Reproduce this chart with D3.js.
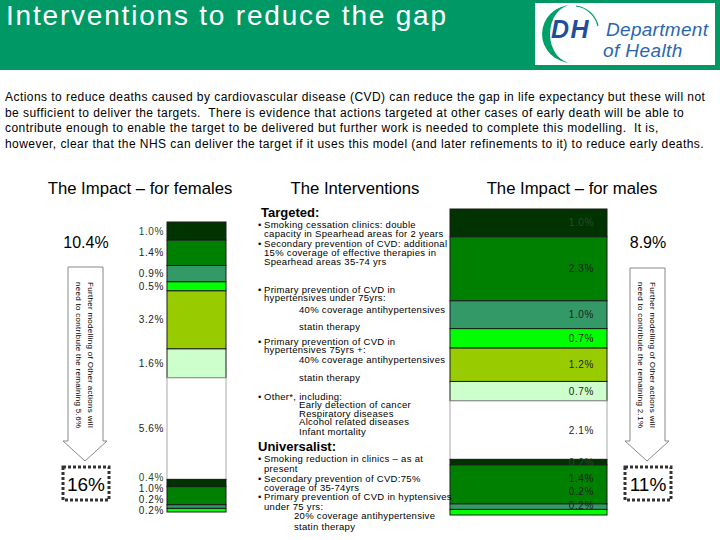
<!DOCTYPE html>
<html>
<head>
<meta charset="utf-8">
<script src="https://cdn.jsdelivr.net/npm/d3@7"></script>
<style>
  body { margin: 0; background: #fff; }
  svg { display: block; font-family: "Liberation Sans", Arial, sans-serif; }
</style>
</head>
<body>
<svg width="720" height="540"></svg>
<script>
// interventions, top to bottom in each bar
const categories = [
  "Smoking cessation", "Secondary prevention", "Primary <75: antihypertensives",
  "Primary <75: statins", "Primary 75+: antihypertensives", "Primary 75+: statins",
  "Other", "Universal smoking", "Universal secondary", "Universal antihypertensives",
  "Universal statins"
];
const femaleValues = [1.0, 1.4, 0.9, 0.5, 3.2, 1.6, 5.6, 0.4, 1.0, 0.2, 0.2];
const maleValues   = [1.0, 2.3, 1.0, 0.7, 1.2, 0.7, 2.1, 0.2, 1.4, 0.2, 0.2];
const femaleTotal = "16%", maleTotal = "11%";
const femaleTargeted = "10.4%", maleTargeted = "8.9%";
const femaleRemaining = "5.6%", maleRemaining = "2.1%";

const segColors = ["#003300", "#008000", "#339966", "#00ff00", "#99cc00", "#ccffcc",
                   "#ffffff", "#003300", "#008000", "#339966", "#00ff00"];

var svg = d3.select("svg");
var color = d3.scaleOrdinal().domain(categories).range(segColors);

// header band
svg.append("rect").attr("x", 0).attr("y", 0).attr("width", 720).attr("height", 70).attr("fill", "#009966");
svg.append("text").attr("x", 6).attr("y", 25)
  .attr("font-size", 28).attr("letter-spacing", 1.8).attr("fill", "#fff")
  .text("Interventions to reduce the gap");

// logo
var logo = svg.append("g");
logo.append("rect").attr("x", 535).attr("y", 3).attr("width", 180).attr("height", 62).attr("fill", "#fff");
logo.append("path")
  .attr("d", "M572,5 A30,29 0 0 0 572,63 A22,29 0 0 1 572,5 Z")
  .attr("fill", "#00a06a");
logo.append("path")
  .attr("d", "M576,6 A26,26 0 0 1 598,26")
  .attr("fill", "none").attr("stroke", "#00a06a").attr("stroke-width", 1.2);
logo.append("text").attr("x", 551).attr("y", 38)
  .attr("font-size", 25).attr("font-weight", "bold").attr("font-style", "italic")
  .attr("letter-spacing", 1.5).attr("fill", "#1f4e9a").text("DH");
logo.append("text").attr("x", 606).attr("y", 36)
  .attr("font-size", 19).attr("font-style", "italic").attr("letter-spacing", 0.3)
  .attr("fill", "#2a66b0").text("Department");
logo.append("text").attr("x", 603).attr("y", 57)
  .attr("font-size", 19).attr("font-style", "italic").attr("letter-spacing", 0.4)
  .attr("fill", "#2a66b0").text("of Health");

// intro paragraph
var para = [
  "Actions to reduce deaths caused by cardiovascular disease (CVD) can reduce the gap in life expectancy but these will not",
  "be sufficient to deliver the targets.  There is evidence that actions targeted at other cases of early death will be able to",
  "contribute enough to enable the target to be delivered but further work is needed to complete this modelling.  It is,",
  "however, clear that the NHS can deliver the target if it uses this model (and later refinements to it) to reduce early deaths."
];
svg.append("g").selectAll("text").data(para).enter().append("text")
  .attr("x", 5).attr("y", (d, i) => 101 + i * 15.5)
  .attr("font-size", 12).attr("letter-spacing", 0.45)
  .style("white-space", "pre")
  .text(d => d);

// column headings
[["The Impact \u2013 for females", 140], ["The Interventions", 355], ["The Impact \u2013 for males", 572]]
  .forEach(h => {
    svg.append("text").attr("x", h[1]).attr("y", 194).attr("text-anchor", "middle")
      .attr("font-size", 16.7).text(h[0]);
  });

// stacked bars
function drawBar(values, x0, x1, y0, y1, labelX, labelAnchor, gap, maxY) {
  var total = d3.sum(values);
  var y = d3.scaleLinear().domain([0, total]).range([y0, y1]);
  var starts = [0].concat(Array.from(d3.cumsum(values)).slice(0, -1));
  var segs = values.map((v, i) => ({ cat: categories[i], v: v, s: starts[i] }));

  var g = svg.append("g");
  g.selectAll("rect").data(segs).enter().append("rect")
    .attr("x", x0).attr("width", x1 - x0)
    .attr("y", d => y(d.s))
    .attr("height", d => y(d.s + d.v) - y(d.s))
    .attr("fill", d => color(d.cat))
    .attr("stroke", d => d.cat === "Other" ? "#aaa" : "#1a1a1a")
    .attr("stroke-width", 1);

  // label centres, nudged up from the bottom so they do not overlap
  var ys = segs.map(d => (y(d.s) + y(d.s + d.v)) / 2);
  ys[ys.length - 1] = Math.min(ys[ys.length - 1], maxY);
  for (var i = ys.length - 2; i >= 0; i--) ys[i] = Math.min(ys[i], ys[i + 1] - gap);

  g.selectAll("text").data(segs).enter().append("text")
    .attr("x", labelX).attr("y", (d, i) => ys[i])
    .attr("dy", "0.35em").attr("text-anchor", labelAnchor)
    .attr("font-size", 10).attr("letter-spacing", 0.6)
    .attr("fill", d => color(d.cat) === "#003300" ? "#2a4a2a" : "#222")
    .text(d => d.v.toFixed(1) + "%");
}

drawBar(femaleValues, 167, 226, 222, 512, 164, "end", 11, 510);
drawBar(maleValues, 450, 607, 209, 515, 594, "end", 13.5, 505);

// arrow callouts
function callout(cx, top, big, remaining, total) {
  svg.append("text").attr("x", cx).attr("y", 242).attr("dy", "0.35em")
    .attr("text-anchor", "middle").attr("font-size", 16).text(big);
  var l = cx - 18, r = cx + 17;
  var p = d3.path();
  p.moveTo(l, top); p.lineTo(r, top); p.lineTo(r, 441); p.lineTo(cx + 21, 441);
  p.lineTo(cx - 1, 461); p.lineTo(cx - 23, 441); p.lineTo(l, 441); p.closePath();
  svg.append("path").attr("d", p.toString()).attr("fill", "#fff")
    .attr("stroke", "#888").attr("stroke-width", 1);
  var lines = ["Further modelling of Other actions will", "need to contribute the remaining " + remaining];
  svg.append("g").selectAll("text").data(lines).enter().append("text")
    .attr("transform", (d, i) => "translate(" + (cx + 2 - i * 12) + ",282) rotate(90)")
    .attr("font-size", 8).attr("letter-spacing", 0.3).text(d => d);
  svg.append("rect").attr("x", cx - 23).attr("y", 467).attr("width", 46).attr("height", 33)
    .attr("fill", "#fff").attr("stroke", "#333").attr("stroke-width", 3)
    .attr("stroke-dasharray", "3,2");
  svg.append("text").attr("x", cx).attr("y", 484).attr("dy", "0.35em")
    .attr("text-anchor", "middle").attr("font-size", 19).text(total);
}
callout(86, 267, femaleTargeted, femaleRemaining, femaleTotal);
callout(648, 268, maleTargeted, maleRemaining, maleTotal);

// interventions text
var mid = svg.append("g").attr("font-size", 9.5).attr("letter-spacing", 0.3);
function head(t, x, y) {
  mid.append("text").attr("x", x).attr("y", y).attr("font-size", 13)
    .attr("font-weight", "bold").attr("letter-spacing", 0).text(t);
}
function line(t, x, y, bullet) {
  if (bullet) mid.append("text").attr("x", 258).attr("y", y).text("\u2022");
  mid.append("text").attr("x", x).attr("y", y).text(t);
}
head("Targeted:", 261, 217);
line("Smoking cessation clinics: double", 264, 228, true);
line("capacity in Spearhead areas for 2 years", 264, 237);
line("Secondary prevention of CVD: additional", 264, 247, true);
line("15% coverage of effective therapies in", 264, 256);
line("Spearhead areas 35-74 yrs", 264, 265);
line("Primary prevention of CVD in", 264, 293, true);
line("hypertensives under 75yrs:", 264, 301);
line("40% coverage antihypertensives", 299, 313);
line("statin therapy", 299, 330);
line("Primary prevention of CVD in", 264, 345, true);
line("hypertensives 75yrs +:", 264, 353);
line("40% coverage antihypertensives", 299, 363);
line("statin therapy", 299, 381);
line("Other*, including:", 264, 400, true);
line("Early detection of cancer", 299, 408);
line("Respiratory diseases", 299, 417);
line("Alcohol related diseases", 299, 425);
line("Infant mortality", 299, 435);
head("Universalist:", 258, 451);
line("Smoking reduction in clinics \u2013 as at", 264, 462, true);
line("present", 264, 472);
line("Secondary prevention of CVD:75%", 264, 482, true);
line("coverage of 35-74yrs", 264, 491);
line("Primary prevention of CVD in hyptensives", 264, 500, true);
line("under 75 yrs:", 264, 510);
line("20% coverage antihypertensive", 294, 519);
line("statin therapy", 294, 530);
</script>
</body>
</html>
